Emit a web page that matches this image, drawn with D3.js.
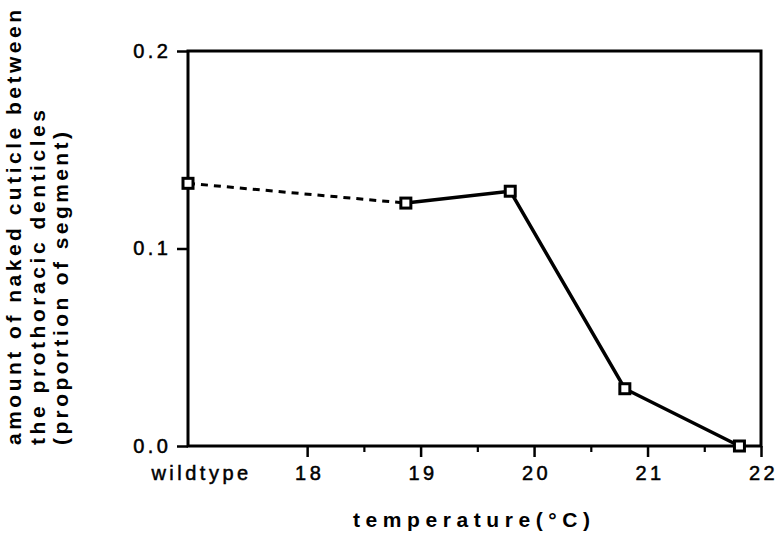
<!DOCTYPE html>
<html>
<head>
<meta charset="utf-8">
<script src="https://cdn.jsdelivr.net/npm/d3@7"></script>
<style>
  html, body { margin: 0; padding: 0; background: #fff; }
  svg { display: block; }
</style>
</head>
<body>
<script>
// ---- data ----
const temps = [16.95, 18.87, 19.79, 20.8, 21.81];     // x positions (first = wildtype)
const naked = [0.133, 0.123, 0.129, 0.029, 0.0];       // proportion of segment
const xTickValues = [16.95, 18, 19, 20, 21, 22];
const xTickLabels = ["wildtype", "18", "19", "20", "21", "22"];
const xMinorTicks = [18.5, 19.5, 20.5, 21.5];
const yTickValues = [0.0, 0.1, 0.2];
const yTickLabels = ["0.0", "0.1", "0.2"];
const yTitleLines = ["amount of naked cuticle between", "the prothoracic denticles", "(proportion of segment)"];
const xTitle = "temperature(\u00B0C)";

const W = 782, H = 538;
const mLeft = 188, mRight = 761, mTop = 51, mBottom = 446;

const svg = d3.select("body").append("svg").attr("width", W).attr("height", H);

const x = d3.scaleLinear().domain([16.95, 22]).range([mLeft, mRight]);
const y = d3.scaleLinear().domain([0, 0.2]).range([mBottom, mTop]);

const font = "'Liberation Sans', Arial, Helvetica, sans-serif";

// frame
svg.append("rect").attr("x", mLeft).attr("y", mTop)
  .attr("width", mRight - mLeft).attr("height", mBottom - mTop)
  .attr("fill", "none").attr("stroke", "#000").attr("stroke-width", 3);

// y axis
const yAxis = d3.axisLeft(y).tickValues(yTickValues)
  .tickFormat((d, i) => yTickLabels[i]).tickSize(11).tickPadding(9);
const gy = svg.append("g").attr("transform", `translate(${mLeft},0)`).call(yAxis);
gy.select(".domain").remove();
gy.selectAll(".tick line").attr("stroke", "#000").attr("stroke-width", 2.5);
gy.selectAll(".tick text").attr("font-family", font).attr("font-size", 20)
  .attr("letter-spacing", "3.5px").attr("fill", "#000").attr("dx", "3.5px")
  .attr("stroke", "#000").attr("stroke-width", 0.5);

// x axis
const xAxis = d3.axisBottom(x).tickValues(xTickValues)
  .tickFormat((d, i) => xTickLabels[i]).tickSize(11).tickPadding(9);
const gx = svg.append("g").attr("transform", `translate(0,${mBottom})`).call(xAxis);
gx.select(".domain").remove();
gx.selectAll(".tick line").attr("stroke", "#000").attr("stroke-width", 2.5);
gx.selectAll(".tick").filter(d => d === 16.95).select("line").remove();
gx.selectAll(".tick text").attr("font-family", font).attr("font-size", 20)
  .attr("letter-spacing", "3.5px").attr("fill", "#000")
  .attr("stroke", "#000").attr("stroke-width", 0.5)
  .attr("dx", d => d === 16.95 ? "13px" : "2px");

// minor ticks
const gm = svg.append("g").attr("transform", `translate(0,${mBottom})`)
  .call(d3.axisBottom(x).tickValues(xMinorTicks).tickSize(6).tickFormat(""));
gm.select(".domain").remove();
gm.selectAll(".tick line").attr("stroke", "#000").attr("stroke-width", 2.2);

// lines
const line = d3.line().x(d => x(d[0])).y(d => y(d[1]));
const pts = temps.map((t, i) => [t, naked[i]]);
svg.append("path").datum(pts.slice(0, 2)).attr("d", line)
  .attr("fill", "none").attr("stroke", "#000").attr("stroke-width", 3)
  .attr("stroke-dasharray", "7,6");
svg.append("path").datum(pts.slice(1)).attr("d", line)
  .attr("fill", "none").attr("stroke", "#000").attr("stroke-width", 3.5);

// markers
svg.append("g").selectAll("rect").data(pts).join("rect")
  .attr("x", d => x(d[0]) - 5).attr("y", d => y(d[1]) - 5)
  .attr("width", 10).attr("height", 10)
  .attr("fill", "#fff").attr("stroke", "#000").attr("stroke-width", 3);

// x title
svg.append("text").attr("x", 353).attr("y", 527)
  .attr("font-family", font).attr("font-weight", "bold").attr("font-size", 21)
  .attr("textLength", 237).attr("lengthAdjust", "spacing")
  .text(xTitle);

// y title
const yLens = [435, 335, 313];
const yBase = [21, 45, 68];
yTitleLines.forEach((t, i) => {
  svg.append("text")
    .attr("transform", `translate(${yBase[i]},445) rotate(-90)`)
    .attr("font-family", font).attr("font-weight", "bold").attr("font-size", 21)
    .attr("textLength", yLens[i]).attr("lengthAdjust", "spacing")
    .text(t);
});
</script>
</body>
</html>
